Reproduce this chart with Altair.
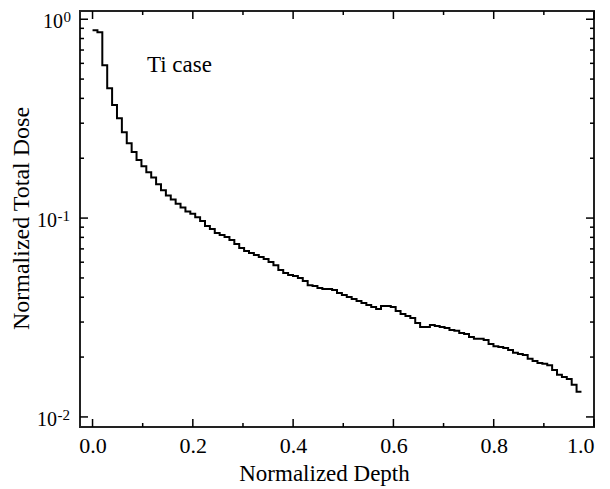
import altair as alt
import pandas as pd

# ---- data ----
BIN_WIDTH = 0.00975  # histogram bin width in normalized depth
dose = [
    0.880, 0.860, 0.587, 0.450, 0.370, 0.318, 0.270, 0.238, 0.215, 0.196,
    0.182, 0.170, 0.160, 0.148, 0.138, 0.130, 0.124, 0.118, 0.113, 0.108,
    0.105, 0.101, 0.0966, 0.0912, 0.0880, 0.0841, 0.0821, 0.0803, 0.0775, 0.0740,
    0.0707, 0.0683, 0.0667, 0.0652, 0.0637, 0.0622, 0.0601, 0.0580, 0.0548, 0.0529,
    0.0517, 0.0511, 0.0499, 0.0482, 0.0460, 0.0455, 0.0445, 0.0440, 0.0440, 0.0435,
    0.0420, 0.0410, 0.0401, 0.0392, 0.0383, 0.0374, 0.0365, 0.0357, 0.0349, 0.0361,
    0.0361, 0.0357, 0.0341, 0.0329, 0.0322, 0.0314, 0.0297, 0.0283, 0.0283, 0.0290,
    0.0287, 0.0283, 0.0280, 0.0274, 0.0271, 0.0264, 0.0261, 0.0252, 0.0247, 0.0247,
    0.0244, 0.0233, 0.0227, 0.0225, 0.0222, 0.0217, 0.0210, 0.0207, 0.0205, 0.0196,
    0.0191, 0.0187, 0.0185, 0.0182, 0.0172, 0.0163, 0.0159, 0.0155, 0.0145, 0.0134,
]
depth = [round(i * BIN_WIDTH, 5) for i in range(len(dose) + 1)]
dose_steps = dose + [dose[-1]]

x_major = [0.0, 0.2, 0.4, 0.6, 0.8, 1.0]
x_minor = [0.1, 0.3, 0.5, 0.7, 0.9]
y_major = [0.01, 0.1, 1.0]
y_minor = [0.02, 0.03, 0.04, 0.05, 0.06, 0.07, 0.08, 0.09,
           0.2, 0.3, 0.4, 0.5, 0.6, 0.7, 0.8, 0.9]
y_label_base = ["10", "10", "10"]
y_label_exp = ["-2", "-1", "0"]

annot_text = ["Ti case"]
annot_depth = [0.1085]
annot_dose = [0.545]

# ---- layout ----
W, H = 514, 416
MAJ, MIN = 8, 4
FONT = "Liberation Serif"

xs = alt.Scale(domain=[-0.025, 1.0], nice=False, zero=False)
ys = alt.Scale(type="log", domain=[0.0089, 1.10], nice=False)

xa = alt.Axis(
    title="Normalized Depth", values=x_major, format=".1f",
    ticks=False, domain=False, grid=False,
    labelFont=FONT, labelFontSize=22, labelColor="black", labelPadding=8,
    labelBaseline="top",
    titleFont=FONT, titleFontSize=23, titleFontWeight="normal", titleColor="black",
    titleX=244, titleY=53, titleBaseline="alphabetic", titleAlign="center",
)
ya = alt.Axis(
    title="Normalized Total Dose", values=y_major, labels=False,
    ticks=False, domain=False, grid=False,
    titleFont=FONT, titleFontSize=24, titleFontWeight="normal", titleColor="black",
    titleX=-52, titleY=207, titleBaseline="alphabetic", titleAlign="center", titleAngle=-90,
)

line_df = pd.DataFrame({"x": depth, "y": dose_steps})

line = alt.Chart(line_df).mark_line(
    interpolate="step-after", color="black", strokeWidth=2
).encode(
    x=alt.X("x:Q", scale=xs, axis=xa),
    y=alt.Y("y:Q", scale=ys, axis=ya),
)


def xticks(vals, length):
    d = pd.DataFrame({"x": vals})
    bottom = alt.Chart(d).mark_rule(color="black", strokeWidth=1.5).encode(
        x=alt.X("x:Q", scale=xs, axis=xa), y=alt.value(H), y2=alt.value(H - length))
    top = alt.Chart(d).mark_rule(color="black", strokeWidth=1.5).encode(
        x=alt.X("x:Q", scale=xs, axis=xa), y=alt.value(0), y2=alt.value(length))
    return [bottom, top]


def yticks(vals, length):
    d = pd.DataFrame({"y": vals})
    left = alt.Chart(d).mark_rule(color="black", strokeWidth=1.5).encode(
        y=alt.Y("y:Q", scale=ys, axis=ya), x=alt.value(0), x2=alt.value(length))
    right = alt.Chart(d).mark_rule(color="black", strokeWidth=1.5).encode(
        y=alt.Y("y:Q", scale=ys, axis=ya), x=alt.value(W), x2=alt.value(W - length))
    return [left, right]


# y tick labels written as 10 with a raised exponent
label_layers = []
for v, base, ex in zip(y_major, y_label_base, y_label_exp):
    exp_left = -16.5 if ex == "0" else -22.5
    d = pd.DataFrame({"y": [v], "b": [base], "e": [ex]})
    label_layers.append(
        alt.Chart(d).mark_text(font=FONT, fontSize=20, color="black", align="right",
                               baseline="alphabetic", dy=9).encode(
            y=alt.Y("y:Q", scale=ys, axis=ya), x=alt.value(exp_left - 0.5), text="b:N"))
    label_layers.append(
        alt.Chart(d).mark_text(font=FONT, fontSize=15, color="black", align="left",
                               baseline="alphabetic", dy=3).encode(
            y=alt.Y("y:Q", scale=ys, axis=ya), x=alt.value(exp_left), text="e:N"))

annot = alt.Chart(pd.DataFrame({"t": annot_text, "x": annot_depth, "y": annot_dose})).mark_text(
    font=FONT, fontSize=23, color="black", align="left", baseline="alphabetic"
).encode(
    x=alt.X("x:Q", scale=xs, axis=xa),
    y=alt.Y("y:Q", scale=ys, axis=ya),
    text="t:N",
)

layers = [line] + xticks(x_major, MAJ) + xticks(x_minor, MIN) + \
    yticks(y_major, MAJ) + yticks(y_minor, MIN) + label_layers + [annot]

chart = alt.layer(*layers).properties(
    width=W, height=H,
    autosize=alt.AutoSizeParams(type="none"),
    padding={"left": 80, "top": 11, "right": 16, "bottom": 62},
    background="white",
).configure_view(
    stroke="#222", strokeWidth=2
)

chart.save("out.html", embed_options={"renderer": "svg", "actions": False})
